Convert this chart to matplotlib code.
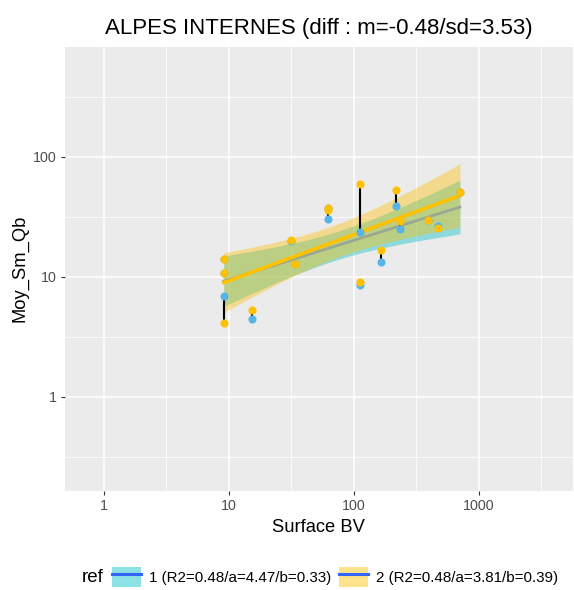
import numpy as np
import matplotlib
matplotlib.use("Agg")
import matplotlib.pyplot as plt
from matplotlib.patches import Patch
from matplotlib.lines import Line2D
from matplotlib.legend_handler import HandlerTuple
from matplotlib.ticker import FixedLocator, NullFormatter

plt.rcParams["font.family"] = ["Liberation Sans", "DejaVu Sans"]

# ---- data ----
surface = [9.1, 9.1, 9.1, 15.3, 31.5, 33.5, 62, 62, 112, 111, 164, 216, 233, 391, 467, 705]
qb_ref1 = [6.9, 14.0, 10.8, 4.47, 20.0, 12.8, 37.4, 30.1, 23.7, 8.6, 13.2, 38.6, 25.0, 29.5, 26.3, 50.5]
qb_ref2 = [4.14, 14.0, 10.8, 5.28, 20.1, 12.8, 37.6, 35.8, 59.2, 9.0, 16.7, 52.8, 29.1, 29.5, 25.3, 50.5]
series_labels = ["1 (R2=0.48/a=4.47/b=0.33)", "2 (R2=0.48/a=3.81/b=0.39)"]
title = "ALPES INTERNES (diff : m=-0.48/sd=3.53)"

x_ticks = [1, 10, 100, 1000]
y_ticks = [1, 10, 100]

fill_cols = ["#00BFC4", "#FFC000"]
line_cols = ["#9AA891", "#FFC000"]
pt_cols = ["#56B4E9", "#FFC000"]

fig = plt.figure(figsize=(5.74, 5.90), dpi=100)
ax = fig.add_axes([0.1132, 0.1683, 0.8848, 0.7525])
ax.set_facecolor("#EBEBEB")
for s in ax.spines.values():
    s.set_visible(False)

ax.set_xscale("log")
ax.set_yscale("log")
ax.set_xlim(10 ** -0.312, 10 ** 3.752)
ax.set_ylim(10 ** -0.783, 10 ** 2.917)

ax.xaxis.set_major_locator(FixedLocator(x_ticks))
ax.yaxis.set_major_locator(FixedLocator(y_ticks))
ax.xaxis.set_minor_locator(FixedLocator([10 ** k for k in (0.5, 1.5, 2.5, 3.5)]))
ax.yaxis.set_minor_locator(FixedLocator([10 ** k for k in (-0.5, 0.5, 1.5, 2.5)]))
ax.xaxis.set_minor_formatter(NullFormatter())
ax.yaxis.set_minor_formatter(NullFormatter())
ax.set_xticklabels([str(v) for v in x_ticks])
ax.set_yticklabels([str(v) for v in y_ticks])
ax.grid(which="major", color="white", linewidth=1.1)
ax.grid(which="minor", color="white", linewidth=0.55)
ax.set_axisbelow(True)
ax.tick_params(which="major", length=3, color="#333333", labelsize=10.3, labelcolor="#4D4D4D",
               width=0.8, pad=3)
ax.tick_params(which="minor", length=0)

# regression bands (log-log OLS with 95% CI)
lx = np.log10(surface)
xg = np.linspace(lx.min(), lx.max(), 100)
tval = 2.145
n = len(lx)
for ys, fc, lc, lw in [(qb_ref1, fill_cols[0], line_cols[0], 2.0), (qb_ref2, fill_cols[1], line_cols[1], 2.6)]:
    ly = np.log10(ys)
    b, a = np.polyfit(lx, ly, 1)
    res = ly - (a + b * lx)
    s = np.sqrt(np.sum(res ** 2) / (n - 2))
    sxx = np.sum((lx - lx.mean()) ** 2)
    fit = a + b * xg
    se = s * np.sqrt(1 / n + (xg - lx.mean()) ** 2 / sxx)
    ax.fill_between(10 ** xg, 10 ** (fit - tval * se), 10 ** (fit + tval * se),
                    color=fc, alpha=0.4, linewidth=0, zorder=2)
    ax.plot(10 ** xg, 10 ** fit, color=lc, linewidth=lw, zorder=3)

# segments between refs
for xv, y1, y2 in zip(surface, qb_ref1, qb_ref2):
    ax.plot([xv, xv], [y1, y2], color="black", linewidth=1.5, zorder=4)

ax.scatter(surface, qb_ref1, s=34, color=pt_cols[0], zorder=5, linewidths=0)
ax.scatter(surface, qb_ref2, s=34, color=pt_cols[1], zorder=6, linewidths=0)

ax.set_xlabel("Surface BV", fontsize=13.2, labelpad=4)
ax.set_ylabel("Moy_Sm_Qb", fontsize=13.2, labelpad=3)
ax.set_title(title, fontsize=16, pad=9)

handles = []
for fc in fill_cols:
    handles.append((Patch(facecolor=fc, alpha=0.45, edgecolor="none"),
                    Line2D([], [], color="#3366FF", linewidth=2.2)))
leg = fig.legend(handles, series_labels, ncol=2, loc="center left",
                 bbox_to_anchor=(0.172, 0.022), frameon=False, fontsize=10.9,
                 handler_map={tuple: HandlerTuple(ndivide=1, pad=0)},
                 handlelength=1.9, handleheight=1.75, columnspacing=0.55, handletextpad=0.5)
fig.text(0.143, 0.022, "ref", fontsize=13.5, va="center", ha="left")

fig.savefig("out.png", dpi=100)
